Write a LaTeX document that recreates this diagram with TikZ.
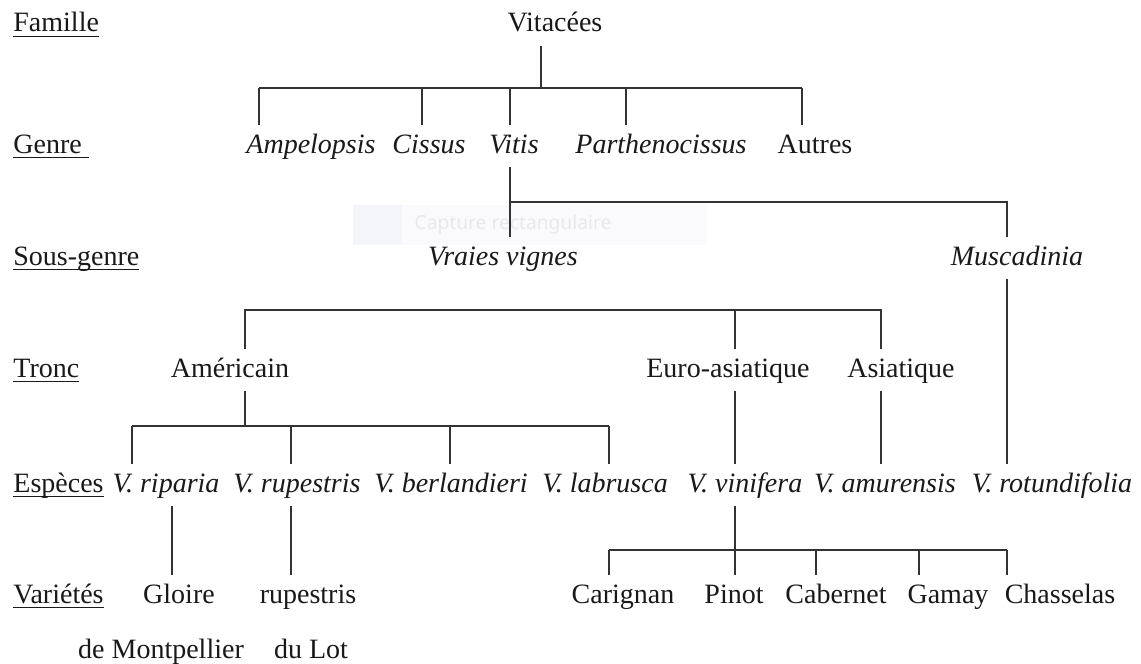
\documentclass[tikz,border=0pt]{standalone}
\usepackage{fontspec}
\setmainfont{Liberation Serif}
\newfontfamily\wmfont{Noto Sans}
\newcommand\ulab[1]{\setbox0\hbox{#1}\rlap{\rule[-2.7pt]{\wd0}{0.75pt}}\box0}
\definecolor{wmbg}{HTML}{FAFAFC}
\definecolor{wmsq}{HTML}{F4F5F8}
\definecolor{wmtx}{HTML}{E6E8EC}
\begin{document}
\begin{tikzpicture}[x=0.5pt,y=-0.5pt,
  txt/.style={anchor=base, inner xsep=0pt, inner ysep=4pt, text height=10pt, text depth=3pt,
              font=\fontsize{14}{17}\selectfont, text=black!90},
  itx/.style={txt, font=\fontsize{14}{17}\selectfont\itshape},
  lab/.style={txt, anchor=base west},
  ln/.style={line width=1pt, draw=black!80}]
\fill[white] (0,0) rectangle (1141,664);
\useasboundingbox (0,0) rectangle (1141,664);

% faint screen-capture tooltip
\fill[wmbg] (353,205) rectangle (707,245);
\fill[wmsq] (353,205) rectangle (402,245);
\node[text=wmtx, font=\wmfont\fontsize{9.6}{10}\selectfont, inner sep=0pt] (wm) at (513,225) {Capture rectangulaire};

% row labels
\node[lab] (famille)   at (13,32)  {\ulab{Famille}};
\node[lab] (genre)     at (13,153) {\ulab{Genre\ }};
\node[lab] (sousgenre) at (13,265) {\ulab{Sous-genre}};
\node[lab] (tronc)     at (13,377) {\ulab{Tronc}};
\node[lab] (especes)   at (13,492) {\ulab{Espèces}};
\node[lab] (varietes)  at (13,603) {\ulab{Variétés}};

% tree nodes
\node[txt] (vitacees) at (555,32) {Vitacées};

\node[itx] (amp) at (311,153) {Ampelopsis};
\node[itx] (cis) at (429,153) {Cissus};
\node[itx] (vit) at (514,153) {Vitis};
\node[itx] (par) at (661,153) {Parthenocissus};
\node[txt] (aut) at (815,153) {Autres};

\node[itx] (vraies) at (503,265) {Vraies vignes};
\node[itx] (musc)   at (1017,265) {Muscadinia};

\node[txt] (amer) at (230,377) {Américain};
\node[txt] (euro) at (728,377) {Euro-asiatique};
\node[txt] (asia) at (901,377) {Asiatique};

\node[itx] (rip) at (166,492) {V.~riparia};
\node[itx] (rup) at (297,492) {V.~rupestris};
\node[itx] (ber) at (451,492) {V.~berlandieri};
\node[itx] (lab) at (605,492) {V.~labrusca};
\node[itx] (vin) at (745,492) {V.~vinifera};
\node[itx] (amu) at (885,492) {V.~amurensis};
\node[itx] (rot) at (1052,492) {V.~rotundifolia};

\node[txt] (gloire) at (179,603) {Gloire};
\node[txt] (rupv)   at (308,603) {rupestris};
\node[txt] (car)    at (623,603) {Carignan};
\node[txt] (pin)    at (734,603) {Pinot};
\node[txt] (cab)    at (836,603) {Cabernet};
\node[txt] (gam)    at (948,603) {Gamay};
\node[txt] (cha)    at (1060,603) {Chasselas};

\node[txt] (mont) at (161,658) {de Montpellier};
\node[txt] (lot)  at (311,658) {du Lot};

% Famille -> Genre
\coordinate (k0) at (541,88);
\draw[ln] (k0 |- vitacees.south) -- (k0);
\foreach \n/\x in {amp/259,cis/422,vit/510,par/626,aut/802}{
  \coordinate (k\n) at (\x,88);
  \draw[ln] (k\n) -- (k\n |- \n.north);
}
\draw[ln] (kamp) -- (kaut);

% Vitis -> sous-genres
\coordinate (kvv) at (510,202);
\coordinate (kmu) at (1007,202);
\draw[ln] (kvv |- vit.south) -- (kvv) -- (kmu) -- (kmu |- musc.north);
\draw[ln] (kvv) -- (kvv |- vraies.north);
\draw[ln] (kmu |- musc.south) -- (kmu |- rot.north);

% troncs
\coordinate (ktA) at (245,310);
\coordinate (ktE) at (735,310);
\coordinate (ktS) at (881,310);
\draw[ln] (ktA |- amer.north) -- (ktA) -- (ktS) -- (ktS |- asia.north);
\draw[ln] (ktE) -- (ktE |- euro.north);
\draw[ln] (ktE |- euro.south) -- (ktE |- vin.north);
\draw[ln] (ktS |- asia.south) -- (ktS |- amu.north);

% Americain -> especes
\coordinate (kam) at (245,426);
\draw[ln] (kam |- amer.south) -- (kam);
\foreach \n/\x in {rip/132,rup/291,ber/450,lab/609}{
  \coordinate (k\n) at (\x,426);
  \draw[ln] (k\n) -- (k\n |- \n.north);
}
\draw[ln] (krip) -- (klab);

% especes -> varietes (americaines)
\coordinate (kgl) at (172,507);
\draw[ln] (kgl |- rip.south) -- (kgl |- gloire.north);
\draw[ln] (krup |- rup.south) -- (krup |- rupv.north);

% vinifera -> varietes
\coordinate (kvi) at (735,550);
\draw[ln] (kvi |- vin.south) -- (kvi);
\foreach \n/\x in {car/609,pin/735,cab/816,gam/919,cha/1007}{
  \coordinate (k\n) at (\x,550);
  \draw[ln] (k\n) -- (k\n |- \n.north);
}
\draw[ln] (kcar) -- (kcha);
\end{tikzpicture}
\end{document}
